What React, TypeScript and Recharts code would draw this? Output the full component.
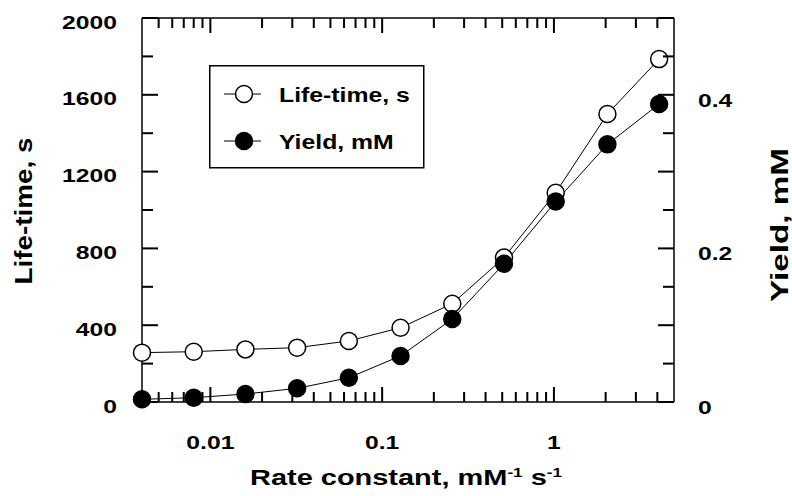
import React from 'react';
import { ComposedChart, Line, XAxis, YAxis, Legend } from 'recharts';

// ---- data ----
const rateConstant = [0.004, 0.008, 0.016, 0.032, 0.064, 0.128, 0.256, 0.512, 1.024, 2.048, 4.096];
const lifeTime = [257, 262, 274, 283, 318, 387, 512, 752, 1090, 1500, 1786];
const yieldMM = [0.0035, 0.0056, 0.0104, 0.0178, 0.0316, 0.06, 0.108, 0.18, 0.261, 0.3355, 0.388];

const xTicks = [
  0.005, 0.006, 0.007, 0.008, 0.009,
  0.01, 0.02, 0.03, 0.04, 0.05, 0.06, 0.07, 0.08, 0.09,
  0.1, 0.2, 0.3, 0.4, 0.5, 0.6, 0.7, 0.8, 0.9,
  1, 2, 3, 4,
];
const xTickLabels = ['0.01', '0.1', '1'];
const leftTicks = [0, 200, 400, 600, 800, 1000, 1200, 1400, 1600, 1800, 2000];
const leftTickLabels = ['0', '400', '800', '1200', '1600', '2000'];
const rightTicks = [0, 0.05, 0.1, 0.15, 0.2, 0.25, 0.3, 0.35, 0.4, 0.45, 0.5];
const rightMajorTicks = [0, 0.1, 0.2, 0.3, 0.4, 0.5];
const rightTickLabels = ['0', '0.2', '0.4'];

const seriesNames = ['Life-time, s', 'Yield, mM'];

const data = rateConstant.map((k, i) => ({ k, life: lifeTime[i], yld: yieldMM[i] }));

const FONT = "'Liberation Sans', Arial, Helvetica, sans-serif";
const SW = 1.5;
const TW = 2;
const near = (a: number, b: number) => Math.abs(a - b) < 1e-9;
const isMajorX = (v: number) => xTickLabels.some((l) => near(Number(l), v));

const labelText = (x: number, y: number, s: string, anchor: string) => (
  <text
    transform={`translate(${x},${y}) scale(1.3,1)`}
    textAnchor={anchor}
    fontFamily={FONT}
    fontWeight="bold"
    fontSize={19}
    fill="#000"
    stroke="none"
  >
    {s}
  </text>
);

// tick marks drawn as filled rectangles
const vTick = (x: number, y0: number, y1: number) => (
  <rect x={x - TW / 2} y={Math.min(y0, y1)} width={TW} height={Math.abs(y1 - y0)} fill="#000" stroke="none" />
);
const hTick = (y: number, x0: number, x1: number) => (
  <rect x={Math.min(x0, x1)} y={y - TW / 2} width={Math.abs(x1 - x0)} height={TW} fill="#000" stroke="none" />
);

const BottomTick = (props: any) => {
  const { x, y, payload } = props;
  const label = xTickLabels.find((l) => near(Number(l), payload.value));
  const len = isMajorX(payload.value) ? 15 : 10;
  return (
    <g>
      {vTick(x, y, y - len)}
      {label && labelText(x, y + 47, label, 'middle')}
    </g>
  );
};

const TopTick = (props: any) => {
  const { x, y, payload } = props;
  const len = isMajorX(payload.value) ? 15 : 10;
  return <g>{vTick(x, y, y + len)}</g>;
};

const LeftTick = (props: any) => {
  const { x, y, payload } = props;
  const label = leftTickLabels.find((l) => near(Number(l), payload.value));
  const len = label ? 16 : 11;
  return (
    <g>
      {hTick(y, x, x + len)}
      {label && labelText(x - 25, y + 10.5, label, 'end')}
    </g>
  );
};

const RightTick = (props: any) => {
  const { x, y, payload } = props;
  const v = payload.value;
  const label = rightTickLabels.find((l) => near(Number(l), v));
  const len = rightMajorTicks.some((m) => near(m, v)) ? 16 : 11;
  return (
    <g>
      {hTick(y, x, x - len)}
      {label && labelText(x + 24, y + 12, label, 'start')}
    </g>
  );
};

const XTitle = () => (
  <text
    x={406}
    y={485}
    textAnchor="middle"
    fontFamily={FONT}
    fontWeight="bold"
    fontSize={22}
    fill="#000"
    textLength={312}
    lengthAdjust="spacingAndGlyphs"
  >
    Rate constant, mM
    <tspan dy={-8} fontSize={13}>-1</tspan>
    <tspan dy={8}>{' s'}</tspan>
    <tspan dy={-8} fontSize={13}>-1</tspan>
  </text>
);

const LeftTitle = () => (
  <text
    transform="translate(32,211) rotate(-90)"
    textAnchor="middle"
    fontFamily={FONT}
    fontWeight="bold"
    fontSize={23}
    fill="#000"
    textLength={147}
    lengthAdjust="spacingAndGlyphs"
  >
    Life-time, s
  </text>
);

const RightTitle = () => (
  <text
    transform="translate(788,225) rotate(-90)"
    textAnchor="middle"
    fontFamily={FONT}
    fontWeight="bold"
    fontSize={23}
    fill="#000"
    textLength={154}
    lengthAdjust="spacingAndGlyphs"
  >
    Yield, mM
  </text>
);

const LegendBox = () => (
  <svg width={216} height={104} style={{ display: 'block' }}>
    <rect x={0.75} y={0.75} width={214} height={102} fill="#fff" stroke="#000" strokeWidth={SW} />
    {seriesNames.map((name, i) => {
      const cy = 29 + i * 47;
      return (
        <g key={name}>
          <path d={`M15,${cy}H52`} stroke="#000" strokeWidth={1} />
          <circle cx={35} cy={cy} r={8.5} fill={i === 0 ? '#fff' : '#000'} stroke="#000" strokeWidth={SW} />
          <text
            transform={`translate(70,${cy + 7.5}) scale(1.18,1)`}
            fontFamily={FONT}
            fontWeight="bold"
            fontSize={21}
            fill="#000"
          >
            {name}
          </text>
        </g>
      );
    })}
  </svg>
);

const axisLineStyle = { stroke: '#000', strokeWidth: SW } as any;

export default function App() {
  return (
    <div style={{ position: 'absolute', left: 0, top: 0, background: '#fff' }}>
      <ComposedChart
        width={792}
        height={496}
        data={data}
        margin={{ top: 8, right: 58, bottom: 64, left: 82 }}
      >
        <XAxis
          xAxisId="bottom"
          dataKey="k"
          type="number"
          scale="log"
          domain={[0.004, 5]}
          ticks={xTicks}
          interval={0}
          height={30}
          tickSize={0}
          tickMargin={0}
          tickLine={false}
          axisLine={axisLineStyle}
          tick={<BottomTick />}
          label={<XTitle />}
        />
        <XAxis
          xAxisId="top"
          orientation="top"
          dataKey="k"
          type="number"
          scale="log"
          domain={[0.004, 5]}
          ticks={xTicks}
          interval={0}
          height={10}
          tickSize={0}
          tickMargin={0}
          tickLine={false}
          axisLine={axisLineStyle}
          tick={<TopTick />}
        />
        <YAxis
          yAxisId="left"
          orientation="left"
          type="number"
          domain={[0, 2000]}
          ticks={leftTicks}
          interval={0}
          width={60}
          tickSize={0}
          tickMargin={0}
          tickLine={false}
          axisLine={axisLineStyle}
          tick={<LeftTick />}
          label={<LeftTitle />}
        />
        <YAxis
          yAxisId="right"
          orientation="right"
          type="number"
          domain={[0, 0.5]}
          ticks={rightTicks}
          interval={0}
          width={60}
          tickSize={0}
          tickMargin={0}
          tickLine={false}
          axisLine={axisLineStyle}
          tick={<RightTick />}
          label={<RightTitle />}
        />
        <Legend
          layout="vertical"
          align="center"
          verticalAlign="middle"
          wrapperStyle={{ left: 209, top: 65, width: 216, height: 104 }}
          content={() => <LegendBox />}
        />
        <Line
          xAxisId="bottom"
          yAxisId="left"
          dataKey="life"
          name={seriesNames[0]}
          stroke="#000"
          strokeWidth={1}
          dot={{ r: 8.5, fill: '#fff', stroke: '#000', strokeWidth: SW }}
          activeDot={false}
          isAnimationActive={false}
        />
        <Line
          xAxisId="bottom"
          yAxisId="right"
          dataKey="yld"
          name={seriesNames[1]}
          stroke="#000"
          strokeWidth={1}
          dot={{ r: 8.5, fill: '#000', stroke: '#000', strokeWidth: SW }}
          activeDot={false}
          isAnimationActive={false}
        />
      </ComposedChart>
    </div>
  );
}
